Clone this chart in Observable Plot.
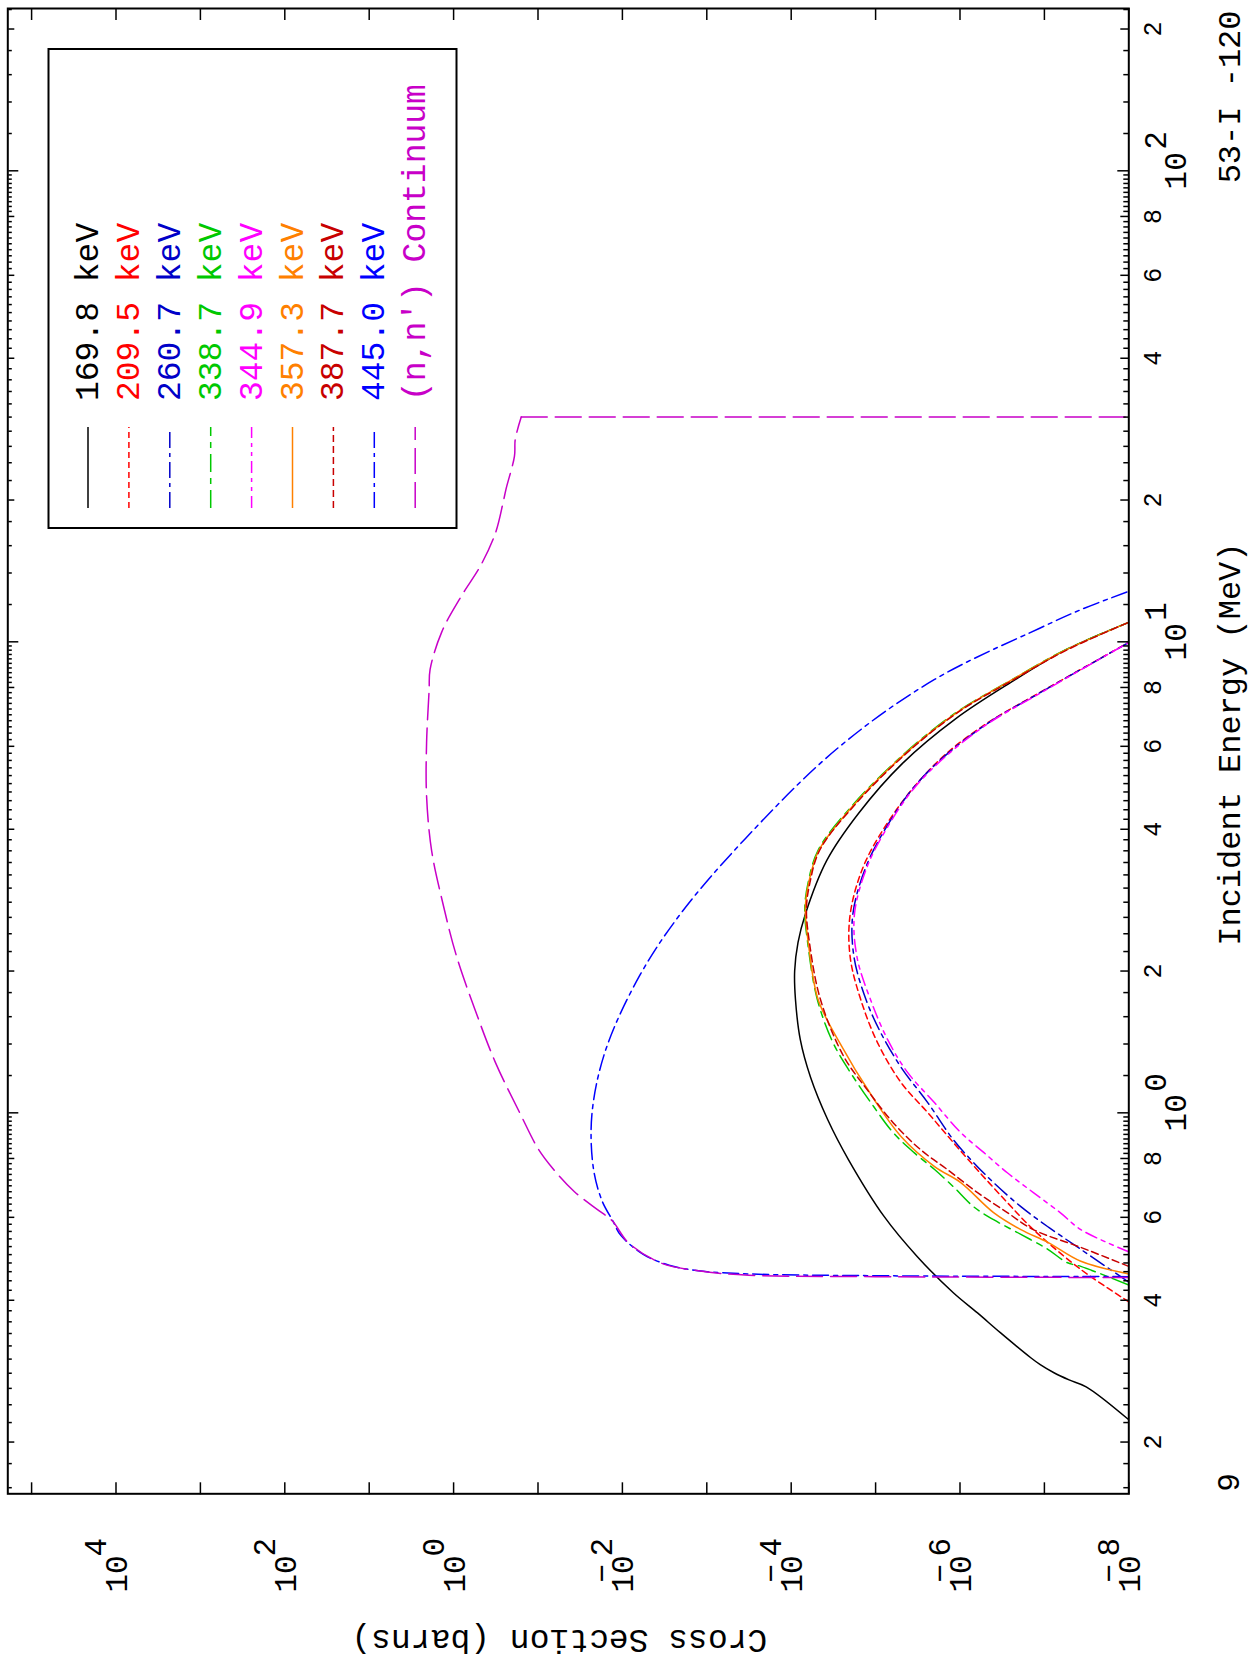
<!DOCTYPE html>
<html><head><meta charset="utf-8">
<script src="https://cdn.jsdelivr.net/npm/d3@7"></script>
<script src="https://cdn.jsdelivr.net/npm/@observablehq/plot@0.6"></script>
<style>
html,body{margin:0;padding:0;background:#fff;width:1250px;height:1662px;overflow:hidden}
#wrap{position:absolute;left:0;top:0;width:1662px;height:1250px;transform-origin:0 0;transform:translate(0px,1662px) rotate(-90deg)}
</style></head><body><div id="wrap"></div>
<script>
// ---- data: incident energy (MeV) and cross section (barns) ----
const E_1698 = [0.223,0.262,0.271,0.281,0.292,0.302,0.341,0.376,0.415,0.495,0.602,0.796,0.968,1.19,1.43,1.74,2.0,2.3,2.64,3.43,4.33,5.52,6.87,8.20,9.58,11.0];
const S_1698 = [1e-8,3.2e-8,5.1e-8,7.8e-8,1.12e-7,1.45e-7,3.3e-7,6.2e-7,1.2e-6,3.2e-6,7.9e-6,2.1e-5,3.7e-5,5.9e-5,7.8e-5,8.9e-5,9.1e-5,8.3e-5,6.8e-5,3.8e-5,1.58e-5,4.8e-6,1.12e-6,2.5e-7,5.8e-8,1e-8];

const E_2095 = [0.397,0.465,0.565,0.645,0.746,0.865,1.00,1.16,1.41,1.74,2.14,2.64,3.33,4.10,4.92,5.76,6.73,7.78,9.97];
const S_2095 = [1e-8,3.7e-8,1.35e-7,2.75e-7,5.8e-7,1.2e-6,2.4e-6,5.0e-6,9.5e-6,1.5e-5,2.0e-5,2.0e-5,1.4e-5,7.4e-6,3.5e-6,1.5e-6,4.7e-7,1.17e-7,1e-8];

const E_2607 = [0.437,0.513,0.573,0.632,0.711,0.784,0.877,1.05,1.25,1.48,1.74,2.14,2.64,3.33,4.10,4.92,5.76,6.73,7.78,9.97];
const S_2607 = [1e-8,3.7e-8,9.1e-8,1.9e-7,4.0e-7,6.9e-7,1.2e-6,2.4e-6,5.0e-6,8.7e-6,1.3e-5,1.8e-5,1.86e-5,1.3e-5,7.1e-6,3.5e-6,1.45e-6,4.6e-7,1.15e-7,1e-8];

const E_3387 = [0.431,0.472,0.481,0.513,0.552,0.593,0.632,0.697,0.758,0.823,0.908,1.03,1.22,1.41,1.74,2.26,2.71,3.08,3.61,4.44,5.76,7.09,8.28,9.58,11.0];
const S_3387 = [1e-8,3.7e-8,5.4e-8,9.1e-8,1.9e-7,4.0e-7,6.9e-7,1.2e-6,2.0e-6,3.5e-6,6.2e-6,1.05e-5,2.0e-5,3.2e-5,4.9e-5,6.3e-5,6.9e-5,6.3e-5,4.8e-5,2.0e-5,4.7e-6,1.1e-6,2.5e-7,5.9e-8,1e-8];

const E_3449 = [0.507,0.565,0.614,0.677,0.746,0.823,0.908,1.05,1.22,1.43,1.74,2.14,2.64,3.33,4.10,4.92,5.76,6.73,7.78,9.97];
const S_3449 = [1e-8,3.7e-8,6.5e-8,1.35e-7,2.75e-7,5.2e-7,9.8e-7,2.0e-6,4.2e-6,7.2e-6,1.15e-5,1.66e-5,1.78e-5,1.26e-5,6.9e-6,3.4e-6,1.4e-6,4.5e-7,1.12e-7,1e-8];

const E_3573 = [0.455,0.484,0.531,0.565,0.614,0.711,0.769,0.891,1.07,1.43,1.74,2.26,2.71,3.08,3.61,4.44,5.76,7.09,8.28,9.58,11.0];
const S_3573 = [1e-8,3.7e-8,9.1e-8,1.9e-7,4.0e-7,9.8e-7,2.0e-6,5.0e-6,1.05e-5,2.8e-5,4.8e-5,6.2e-5,6.8e-5,6.2e-5,4.7e-5,1.95e-5,4.6e-6,1.07e-6,2.5e-7,5.8e-8,1e-8];

const E_3877 = [0.472,0.518,0.565,0.614,0.677,0.757,0.836,0.953,1.12,1.32,1.74,2.26,2.71,3.08,3.61,4.44,5.76,7.09,8.28,9.58,11.0];
const S_3877 = [1e-8,3.7e-8,1.35e-7,2.75e-7,6.2e-7,1.4e-6,2.95e-6,6.2e-6,1.26e-5,2.4e-5,4.5e-5,6.0e-5,6.6e-5,6.0e-5,4.6e-5,1.9e-5,4.5e-6,1.05e-6,2.4e-7,5.6e-8,1e-8];

const E_4450 = [0.449,0.451,0.455,0.462,0.475,0.50,0.55,0.59,0.65,0.76,0.99,1.35,1.95,2.66,3.82,5.95,8.32,10.7,11.7,12.8];
const S_4450 = [1e-8,1e-5,3.2e-4,1.26e-3,2.8e-3,5.6e-3,1.05e-2,1.3e-2,1.74e-2,2.2e-2,2.3e-2,1.6e-2,6.3e-3,2.0e-3,3.5e-4,2.8e-5,2.0e-6,1.12e-7,3.7e-8,1e-8];

const E_cont = [0.447,0.449,0.452,0.462,0.48,0.53,0.59,0.62,0.68,0.76,0.84,0.99,1.28,1.66,2.16,2.8,3.6,4.7,6.1,7.9,8.73,10.5,12.5,14.5,17.0,19.7,21.05,24.8,26.9,30.0,30.0];
const S_cont = [1e-8,1e-5,3.2e-4,1.26e-3,3.5e-3,8.5e-3,1.32e-2,1.9e-2,3.7e-2,6.6e-2,0.10,0.16,0.32,0.56,0.93,1.35,1.82,2.09,2.09,1.95,1.9,1.38,0.81,0.48,0.32,0.26,0.24,0.19,0.186,0.158,1e-8];

const legendLabels = ["169.8 keV","209.5 keV","260.7 keV","338.7 keV","344.9 keV","357.3 keV","387.7 keV","445.0 keV","(n,n') Continuum"];
const seriesColors = ["#000000","#ff0000","#0000c8","#00c800","#ff00ff","#ff8000","#c80000","#0000ff","#c800c8"];
const seriesDash = [null,"6,4","16,5,4,5","18,6,6,6","12,5,4,5,4,5",null,"7,4","16,5,4,5","26,8"];
const seriesE = [E_1698,E_2095,E_2607,E_3387,E_3449,E_3573,E_3877,E_4450,E_cont];
const seriesS = [S_1698,S_2095,S_2607,S_3387,S_3449,S_3573,S_3877,S_4450,S_cont];
const seriesDropsAtEnd = [false,false,false,false,false,false,false,false,true];

// axis ticks and labels
const xDomain = [0.1553, 221.1];
const yDomain = [1e-8, 1.914e5];
const eDecades = [1, 10, 100];
const eDecadeExp = ["0","1","2"];
const eMinorLabelVals = [0.2,0.4,0.6,0.8,2,4,6,8,20,40,60,80,200];
const eMinorLabelText = ["2","4","6","8","2","4","6","8","2","4","6","8","2"];
const eMinorTicks = [].concat(
  d3.range(16, 100, 2).map(d => d / 100),
  d3.range(12, 100, 2).map(d => d / 10),
  d3.range(12, 100, 2),
  d3.range(120, 221, 20)
).filter(d => !eMinorLabelVals.some(v => Math.abs(v - d) < 1e-9));
const sDecades = d3.range(-8, 6).map(p => Math.pow(10, p));
const sLabelVals = [1e4,1e2,1,1e-2,1e-4,1e-6,1e-8];
const sLabelExp = ["4","2","0","2","4","6","8"];
const sLabelNeg = [false,false,false,true,true,true,true];

const FONT = "Liberation Mono, DejaVu Sans Mono, monospace";
const lines = [];
seriesE.forEach((E, k) => {
  const rows = E.map((e, i) => ({E: e, S: seriesS[k][i]}));
  const style = {x: "E", y: "S", stroke: seriesColors[k], strokeWidth: 1.5,
    strokeDasharray: seriesDash[k] || undefined, clip: true};
  if (seriesDropsAtEnd[k]) {
    lines.push(Plot.line(rows.slice(0, -1), {...style, curve: "catmull-rom"}));
    lines.push(Plot.line(rows.slice(-2), {...style, curve: "linear"}));
  } else {
    lines.push(Plot.line(rows, {...style, curve: "catmull-rom"}));
  }
});

const axStyle = {fill: "none", label: null, stroke: "#000", strokeWidth: 1.5};
const plot = Plot.plot({
  width: 1662, height: 1250,
  marginLeft: 167.7, marginRight: 9, marginTop: 7.3, marginBottom: 121.7,
  x: {type: "log", domain: xDomain, axis: null},
  y: {type: "log", domain: yDomain, axis: null},
  style: {fontFamily: FONT, background: "#fff", color: "#000"},
  marks: [
    ...lines,
    Plot.axisX(eDecades, {anchor: "bottom", tickSize: -11, ...axStyle}),
    Plot.axisX(eMinorLabelVals, {anchor: "bottom", tickSize: -8, ...axStyle}),
    Plot.axisX(eMinorTicks, {anchor: "bottom", tickSize: -5, ...axStyle}),
    Plot.axisX(eDecades, {anchor: "top", tickSize: -10, ...axStyle}),
    Plot.axisX(eMinorLabelVals, {anchor: "top", tickSize: -6, ...axStyle}),
    Plot.axisX(eMinorTicks, {anchor: "top", tickSize: -3.5, ...axStyle}),
    Plot.axisY(sDecades, {anchor: "left", tickSize: -12, ...axStyle}),
    Plot.axisY(sDecades, {anchor: "right", tickSize: -12, ...axStyle}),
    Plot.frame({stroke: "#000", strokeWidth: 2}),
    // energy tick labels
    Plot.text(eMinorLabelVals, {x: d => d, text: (d, i) => eMinorLabelText[i], frameAnchor: "bottom", dy: 32, lineAnchor: "bottom", textAnchor: "middle", fontSize: 25}),
    Plot.text(eDecades, {x: d => d, text: () => "10", frameAnchor: "bottom", dy: 57, lineAnchor: "bottom", textAnchor: "middle", fontSize: 31}),
    Plot.text(eDecades, {x: d => d, text: (d, i) => eDecadeExp[i], frameAnchor: "bottom", dx: 21, dy: 37, lineAnchor: "bottom", textAnchor: "start", fontSize: 31}),
    // cross-section tick labels
    Plot.text(sLabelVals, {y: d => d, text: () => "10", frameAnchor: "left", dx: -98.7, dy: 11, lineAnchor: "bottom", textAnchor: "start", fontSize: 31}),
    Plot.text(sLabelVals, {y: d => d, text: (d, i) => sLabelExp[i], frameAnchor: "left", dx: -62.7, dy: -10, lineAnchor: "bottom", textAnchor: "start", fontSize: 31}),
    Plot.text(sLabelVals.filter((d, i) => sLabelNeg[i]), {y: d => d, text: () => "\u2212", frameAnchor: "left", dx: -79.7, dy: -10, lineAnchor: "bottom", textAnchor: "middle", fontSize: 31}),
    // titles
    Plot.text(["Incident Energy (MeV)"], {frameAnchor: "bottom", dx: 7, dy: 111, lineAnchor: "bottom", textAnchor: "middle", fontSize: 32}),
    Plot.text(["Cross Section (barns)"], {frameAnchor: "middle", rotate: -90, dx: -889.4, dy: -9, textAnchor: "middle", lineAnchor: "middle", fontSize: 33}),
    Plot.text(["53-I -120"], {frameAnchor: "bottom-right", dx: -2, dy: 111, lineAnchor: "bottom", textAnchor: "end", fontSize: 32}),
    Plot.text(["9"], {frameAnchor: "bottom-left", dx: 2, dy: 110, lineAnchor: "bottom", textAnchor: "start", fontSize: 31})
  ]
});

// legend box (top-right corner of the landscape frame)
const svg = d3.select(plot);
const lg = svg.append("g").attr("font-family", FONT).attr("text-anchor", "start");
lg.append("rect").attr("x", 1134).attr("y", 48.5).attr("width", 479).attr("height", 408)
  .attr("fill", "#fff").attr("stroke", "#000").attr("stroke-width", 2);
legendLabels.forEach((lab, i) => {
  const y = 88 + i * 40.9;
  lg.append("line").attr("x1", 1154).attr("x2", 1235).attr("y1", y).attr("y2", y)
    .attr("stroke", seriesColors[i]).attr("stroke-width", 1.5)
    .attr("stroke-dasharray", seriesDash[i] || null);
  lg.append("text").attr("x", 1261).attr("y", y + 10).attr("font-size", 33)
    .attr("text-anchor", "start").attr("fill", seriesColors[i]).text(lab);
});

document.getElementById("wrap").appendChild(plot);
</script></body></html>
